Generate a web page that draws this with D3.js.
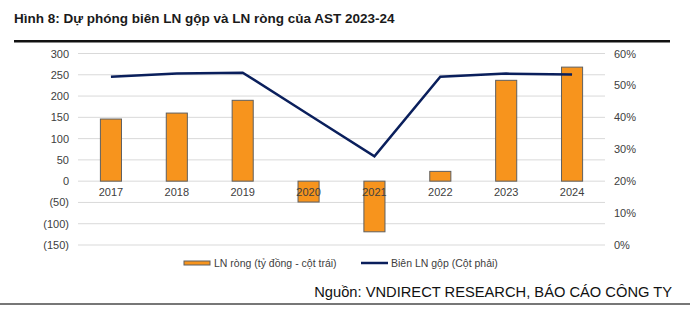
<!DOCTYPE html>
<html>
<head>
<meta charset="utf-8">
<script src="https://cdn.jsdelivr.net/npm/d3@7"></script>
<style>
  body { margin: 0; background: #fff; }
  text { font-family: "Liberation Sans", Arial, sans-serif; }
</style>
</head>
<body>
<svg width="690" height="324"></svg>
<script>
var years = ["2017", "2018", "2019", "2020", "2021", "2022", "2023", "2024"];
var netProfit = [146, 160, 190, -49, -119, 23, 237, 268];
var grossMargin = [0.527, 0.537, 0.540, 0.409, 0.278, 0.527, 0.537, 0.534];
var leftTicks = [-150, -100, -50, 0, 50, 100, 150, 200, 250, 300];
var rightTicks = [0, 0.1, 0.2, 0.3, 0.4, 0.5, 0.6];

var svg = d3.select("svg");

var x = d3.scaleBand().domain(years).range([78, 605]).paddingInner(0.68).paddingOuter(0.34);
var y = d3.scaleLinear().domain([-150, 300]).range([245, 53.5]);
var y2 = d3.scaleLinear().domain([0, 0.6]).range([245, 53.5]);

// title
svg.append("text")
    .attr("x", 14).attr("y", 23)
    .attr("font-size", 13.5).attr("font-weight", "bold").attr("fill", "#1a1a1a")
    .text("Hình 8: Dự phóng biên LN gộp và LN ròng của AST 2023-24");
svg.append("rect").attr("x", 14).attr("y", 40).attr("width", 656).attr("height", 2.5).attr("fill", "#111");

// gridlines
svg.append("g").selectAll("line")
    .data(leftTicks)
    .enter().append("line")
    .attr("x1", 78).attr("x2", 605)
    .attr("y1", function(d) { return y(d); })
    .attr("y2", function(d) { return y(d); })
    .attr("stroke", "#d9d9d9").attr("stroke-width", 1);

// left axis
var leftAxis = svg.append("g")
    .attr("transform", "translate(78,0)")
    .call(d3.axisLeft(y).tickValues(leftTicks).tickSize(0).tickPadding(9)
      .tickFormat(function(d) { return d < 0 ? "(" + (-d) + ")" : d; }));
leftAxis.select(".domain").remove();
leftAxis.selectAll("text").attr("font-size", 11).attr("fill", "#404040").style("font-family", "Liberation Sans, Arial, sans-serif");

// right axis
var rightAxis = svg.append("g")
    .attr("transform", "translate(605,0)")
    .call(d3.axisRight(y2).tickValues(rightTicks).tickSize(0).tickPadding(9)
      .tickFormat(d3.format(".0%")));
rightAxis.select(".domain").remove();
rightAxis.selectAll("text").attr("font-size", 11).attr("fill", "#404040").style("font-family", "Liberation Sans, Arial, sans-serif");

// bars
svg.append("g").selectAll("rect")
    .data(netProfit)
    .enter().append("rect")
    .attr("x", function(d, i) { return x(years[i]); })
    .attr("width", x.bandwidth())
    .attr("y", function(d) { return y(Math.max(0, d)); })
    .attr("height", function(d) { return Math.abs(y(d) - y(0)); })
    .attr("fill", "#F7941D")
    .attr("stroke", "#5f5f5f").attr("stroke-width", 1);

// category labels
svg.append("g").selectAll("text")
    .data(years)
    .enter().append("text")
    .attr("x", function(d) { return x(d) + x.bandwidth() / 2; })
    .attr("y", y(0) + 15)
    .attr("text-anchor", "middle")
    .attr("font-size", 11).attr("fill", "#404040")
    .text(function(d) { return d; });

// line
var line = d3.line()
    .x(function(d, i) { return x(years[i]) + x.bandwidth() / 2; })
    .y(function(d) { return y2(d); });
svg.append("path")
    .datum(grossMargin)
    .attr("d", line)
    .attr("fill", "none")
    .attr("stroke", "#0a1f5c").attr("stroke-width", 2.5);

// legend
svg.append("rect").attr("x", 184).attr("y", 261).attr("width", 26).attr("height", 4)
    .attr("fill", "#F7941D").attr("stroke", "#5f5f5f").attr("stroke-width", 1);
svg.append("text").attr("x", 214).attr("y", 267).attr("font-size", 10.5).attr("fill", "#404040")
    .text("LN ròng (tỷ đồng - cột trái)");
svg.append("line").attr("x1", 361).attr("x2", 388).attr("y1", 263).attr("y2", 263)
    .attr("stroke", "#0a1f5c").attr("stroke-width", 2.5);
svg.append("text").attr("x", 391).attr("y", 267).attr("font-size", 10.5).attr("fill", "#404040")
    .text("Biên LN gộp (Cột phải)");

// source
svg.append("text").attr("x", 672).attr("y", 297).attr("text-anchor", "end")
    .attr("font-size", 14.7).attr("fill", "#111")
    .text("Nguồn: VNDIRECT RESEARCH, BÁO CÁO CÔNG TY");
svg.append("rect").attr("x", 0).attr("y", 303).attr("width", 690).attr("height", 2).attr("fill", "#777");
</script>
</body>
</html>
